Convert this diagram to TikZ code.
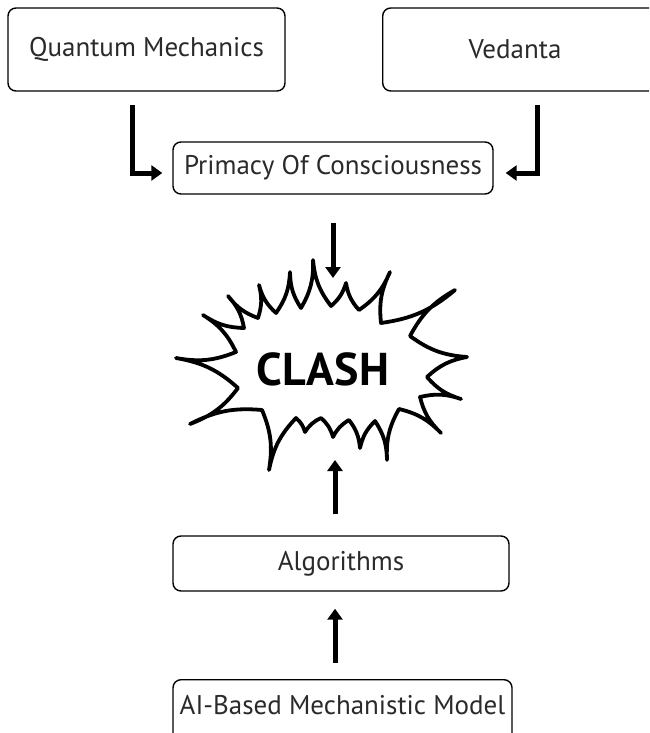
\documentclass[tikz,border=0pt]{standalone}
\usepackage{fontspec}
\setmainfont{PT Sans}
\usetikzlibrary{arrows.meta}
\definecolor{txt}{HTML}{2A2A2A}
\begin{document}
\begin{tikzpicture}[x=1pt,y=-1pt,
  box/.style={draw=black, line width=1.4pt, rounded corners=8pt,
    font=\fontsize{27}{31}\selectfont, text=txt, inner sep=0pt},
  fat/.style={line width=5pt, -{Triangle[width=15pt,length=11pt]}},
  burst/.style={line width=3.8pt, line join=round, fill=white, draw=black},
  bl/.style={bend right=16},
]
\useasboundingbox (0,0) rectangle (649,733);
\clip (0,0) rectangle (649,733);

% boxes
\node[box, minimum width=277pt, minimum height=83pt] (qm) at (146.5,49.5) {Quantum Mechanics};
\node[box, minimum height=83pt, text width=300pt, align=left, anchor=west] (ved) at (382,49.5) {\hspace*{86pt}Vedanta};
\node[box, minimum width=320pt, minimum height=52pt] (pc) at (333,168) {Primacy Of Consciousness};
\node[box, minimum width=336pt, minimum height=55pt] (alg) at (341,563.5) {Algorithms};
\node[box, minimum width=339pt, text height=35pt, text depth=60pt, anchor=north] (ai) at (342.5,679) {AI-Based Mechanistic Model};

% burst
\draw[burst] (176,358) to[bl] (236,352) to[bl] (203,315) to[bl] (244,328) to[bl] (228,296) to[bl] (258,318)
  to[bl] (259,285) to[bl] (276,313) to[bl] (290,272) to[bl] (301,308) to[bl] (313,260) to[bl] (331,306)
  to[bl] (346,283) to[bl] (359,310) to[bl] (390,272) to[bl] (381,323) to[bl] (455,290) to[bl] (410,336)
  to[bl] (467,357) to[bl] (427,377) to[bl] (461,399) to[bl] (420,397) to[bl] (441,433) to[bl] (399,409)
  to[bl] (387,460) to[bl] (375,421) to[bl] (360,448) to[bl] (349,420) to[bl] (333,437) to[bl] (321,418)
  to[bl] (305,432) to[bl] (296,418) to[bl] (269,470) to[bl] (262,410) to[bl] (190,424) to[bl] (238,388) to[bl] (176,358) -- cycle;
\node[font=\bfseries\fontsize{46}{50}\selectfont] (clash) at (323,369) {CLASH};

% connectors
\coordinate (l1) at (132,105);
\coordinate (r1) at (537,105);
\coordinate (clashtop) at (333,278);
\coordinate (clashbot) at (335,460);
\draw[fat] (l1) |- ([xshift=-10pt,yshift=-5pt]pc.west);
\draw[fat] (r1) |- ([xshift=12pt,yshift=-5pt]pc.east);
\draw[fat, shorten <=28pt] (pc.south) -- (clashtop);
\draw[fat, shorten <=21pt] ([xshift=-6pt]alg.north) -- (clashbot);
\draw[fat, shorten <=16pt, shorten >=17pt] ([xshift=-7.5pt]ai.north) -- ([xshift=-6pt]alg.south);
\end{tikzpicture}
\end{document}
